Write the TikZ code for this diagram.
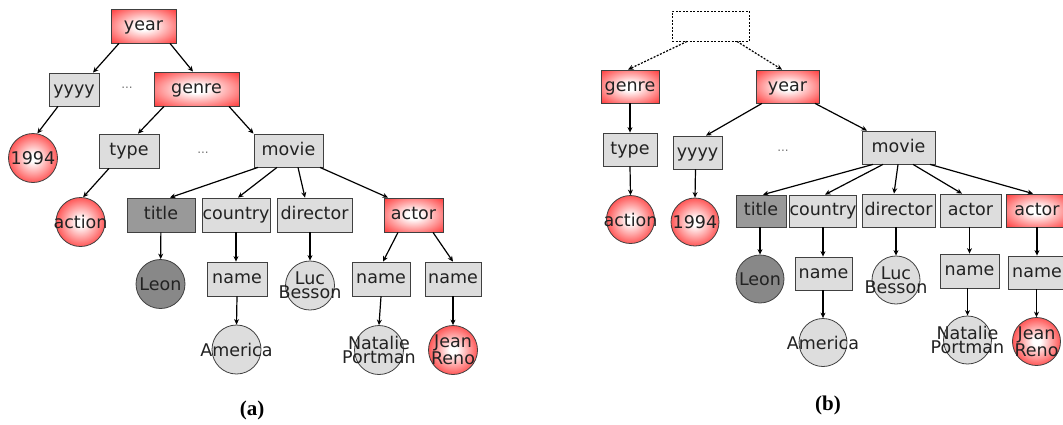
\documentclass[tikz,border=0pt]{standalone}
\usepackage{fontspec}
\setmainfont{DejaVu Sans}
\newfontfamily\capfont{Liberation Serif}
\usetikzlibrary{arrows.meta}
\definecolor{lgray}{RGB}{221,221,221}
\definecolor{mgray}{RGB}{153,153,153}
\definecolor{dgray}{RGB}{136,136,136}
\definecolor{txt}{RGB}{34,34,34}
\pgfdeclareradialshading{redbox}{\pgfpoint{0bp}{0bp}}{color(0bp)=(white); color(6bp)=(white); color(44bp)=(red); color(50bp)=(red); color(100bp)=(red)}
\pgfdeclareradialshading{redball}{\pgfpoint{0bp}{0bp}}{color(0bp)=(white); color(4bp)=(white); color(36bp)=(red); color(50bp)=(red); color(100bp)=(red)}
\newcommand{\nodefont}{\fontsize{17.5}{14}\selectfont}
\tikzset{
  base/.style={draw=black!75, line width=0.8pt, inner sep=0pt, font=\nodefont, text=txt, text height=12.5pt, text depth=3.5pt},
  gbox/.style={base, rectangle, fill=lgray},
  dbox/.style={base, rectangle, fill=mgray},
  rbox/.style={base, rectangle, shading=redbox},
  circbase/.style={draw=black!75, line width=0.8pt, circle, inner sep=0pt, minimum size=49pt},
  gcirc/.style={circbase, fill=lgray},
  dcirc/.style={circbase, fill=dgray},
  rcirc/.style={circbase, shading=redball},
  lbl/.style={font=\nodefont, text=txt, align=center, inner sep=0pt},
  dashbox/.style={draw=black, line width=0.9pt, dash pattern=on 2pt off 1.5pt, rectangle, inner sep=0pt},
  dotsnode/.style={font=\fontsize{12}{12}\selectfont, text=black!55, inner sep=0pt},
  capnode/.style={font=\capfont\bfseries\fontsize{21}{21}\selectfont, inner sep=0pt},
  conn/.style={line width=1.2pt, -{Stealth[length=5.5pt,width=5pt]}},
  dconn/.style={conn, dash pattern=on 2pt off 1.5pt},
}
\begin{document}
\begin{tikzpicture}[x=1pt,y=-1pt]
\useasboundingbox (0,0) rectangle (1063,424);
% ---------------- panel (a)
\node[rbox, minimum width=65pt, minimum height=34pt] (ya) at (143.5,26) {year};
\node[gbox, minimum width=50pt, minimum height=33pt] (yyyya) at (74,89.5) {yyyy};
\node[dotsnode] (d1a) at (127,88) {...};
\node[rbox, minimum width=85pt, minimum height=34pt] (ga) at (196.5,89) {genre};
\node[rcirc, label={[lbl]center:1994}] (n94a) at (33,158) {};
\node[gbox, minimum width=60pt, minimum height=34pt] (typea) at (129,151) {type};
\node[dotsnode] (d2a) at (203,153) {...};
\node[gbox, minimum width=69pt, minimum height=33pt] (mova) at (288.5,150.5) {movie};
\node[rcirc, label={[lbl]center:action}] (acta) at (80.5,222) {};
\node[dbox, minimum width=68pt, minimum height=34pt] (titlea) at (161,215) {title};
\node[gbox, minimum width=68pt, minimum height=34pt] (countrya) at (236,215) {country};
\node[gbox, minimum width=75pt, minimum height=34pt] (dira) at (314.5,215) {director};
\node[rbox, minimum width=59pt, minimum height=34pt] (actora) at (413.5,215) {actor};
\node[dcirc, label={[lbl]center:Leon}] (leona) at (160.5,284) {};
\node[gbox, minimum width=60pt, minimum height=34pt] (cnamea) at (237,279) {name};
\node[gcirc, label={[lbl]center:Luc\\Besson}] (luca) at (310,285.5) {};
\node[gbox, minimum width=58pt, minimum height=34pt] (an1a) at (381,279) {name};
\node[gbox, minimum width=56pt, minimum height=34pt] (an2a) at (453,279) {name};
\node[gcirc, label={[lbl]center:America}] (amera) at (236.5,349.5) {};
\node[gcirc, label={[lbl]center:Natalie\\Portman}] (nata) at (379,350) {};
\node[rcirc, label={[lbl]center:Jean\\Reno}] (jeana) at (453,350) {};
\node[capnode] (capa) at (252,410) {(a)};

\draw[conn] ([xshift=-24.5pt]ya.south) -- ([xshift=19pt]yyyya.north);
\draw[conn] ([xshift=26.5pt]ya.south) -- ([xshift=-3.5pt]ga.north);
\draw[conn] ([xshift=-16pt]yyyya.south) -- (n94a.80);
\draw[conn] ([xshift=-32.5pt]ga.south) -- ([xshift=9pt]typea.north);
\draw[conn] ([xshift=32.5pt]ga.south) -- ([xshift=-35pt]mova.north);
\draw[conn] ([xshift=-20pt]typea.south) -- (acta.84);
\draw[conn] ([xshift=-30.5pt]mova.south) -- ([xshift=9pt]titlea.north);
\draw[conn] ([xshift=-11.5pt]mova.south) -- ([xshift=2pt]countrya.north);
\draw[conn] ([xshift=9.5pt]mova.south) -- ([xshift=-9.5pt]dira.north);
\draw[conn] ([xshift=31.5pt]mova.south) -- ([xshift=-25.5pt]actora.north);
\draw[conn] (titlea) -- (leona);
\draw[conn] (countrya.south) -- (cnamea.north -| countrya.south);
\draw[conn] ([xshift=-4.5pt]dira.south) -- (luca.north);
\draw[conn] ([xshift=-15.5pt]actora.south) -- ([xshift=2pt]an1a.north);
\draw[conn] ([xshift=19.5pt]actora.south) -- (an2a.north);
\draw[conn] (cnamea.south) -- (amera.north);
\draw[conn] (an1a.south) -- (nata.north);
\draw[conn] (an2a.south) -- (jeana.north);

% ---------------- panel (b)
\node[dashbox, minimum width=77pt, minimum height=30pt] (root) at (710.5,26) {};
\node[rbox, minimum width=58pt, minimum height=33pt] (gb) at (630,86.5) {genre};
\node[rbox, minimum width=63pt, minimum height=33pt] (yb) at (787.5,86.5) {year};
\node[gbox, minimum width=54pt, minimum height=33pt] (typeb) at (630,149.5) {type};
\node[gbox, minimum width=49pt, minimum height=33pt] (yyyyb) at (697.5,152.5) {yyyy};
\node[dotsnode] (d1b) at (783,151) {...};
\node[gbox, minimum width=73pt, minimum height=33pt] (movb) at (898.5,147.5) {movie};
\node[rcirc, minimum size=48pt, label={[lbl]center:action}] (actb) at (630.5,219.5) {};
\node[rcirc, minimum size=48pt, label={[lbl]center:1994}] (n94b) at (695,222) {};
\node[dbox, minimum width=50pt, minimum height=32pt] (titleb) at (761,211) {title};
\node[gbox, minimum width=66pt, minimum height=32pt] (countryb) at (823,211) {country};
\node[gbox, minimum width=73pt, minimum height=33pt] (dirb) at (898.5,210.5) {director};
\node[gbox, minimum width=61pt, minimum height=33pt] (actorb) at (970.5,210.5) {actor};
\node[rbox, minimum width=62pt, minimum height=33pt] (actorrb) at (1037,210.5) {actor};
\node[dcirc, minimum size=48pt, label={[lbl]center:Leon}] (leonb) at (760,279) {};
\node[gbox, minimum width=57pt, minimum height=33pt] (cnameb) at (823.5,273.5) {name};
\node[gcirc, minimum size=48pt, label={[lbl]center:Luc\\Besson}] (lucb) at (896,280) {};
\node[gbox, minimum width=59pt, minimum height=34pt] (anb) at (969.5,271) {name};
\node[gbox, minimum width=58pt, minimum height=33pt] (anrb) at (1037,272.5) {name};
\node[gcirc, minimum size=48pt, label={[lbl]center:America}] (amerb) at (823,342.5) {};
\node[gcirc, minimum size=48pt, label={[lbl]center:Natalie\\Portman}] (natb) at (967.5,340) {};
\node[rcirc, minimum size=48pt, label={[lbl]center:Jean\\Reno}] (jeanb) at (1036.5,341.5) {};
\node[capnode] (capb) at (828,405) {(b)};

\draw[dconn] ([xshift=-23.5pt]root.south) -- ([xshift=-2pt]gb.north);
\draw[dconn] ([xshift=26.5pt]root.south) -- ([xshift=-5.5pt]yb.north);
\draw[conn] (gb) -- (typeb);
\draw[conn] ([xshift=-25.5pt]yb.south) -- ([xshift=8.5pt]yyyyb.north);
\draw[conn] ([xshift=27.5pt]yb.south) -- ([xshift=-31.5pt]movb.north);
\draw[conn] (typeb.south) -- (actb.north);
\draw[conn] ([xshift=-2pt]yyyyb.south) -- (n94b.north);
\draw[conn] ([xshift=-25.5pt]movb.south) -- ([xshift=2pt]titleb.north);
\draw[conn] ([xshift=-15.5pt]movb.south) -- ([xshift=2pt]countryb.north);
\draw[conn] ([xshift=-0.5pt]movb.south) -- ([xshift=-4.5pt]dirb.north);
\draw[conn] ([xshift=14.5pt]movb.south) -- ([xshift=-8.5pt]actorb.north);
\draw[conn] ([xshift=31.5pt]movb.south) -- ([xshift=-4pt]actorrb.north);
\draw[conn] ([xshift=-1pt]titleb.south) -- (leonb.north);
\draw[conn] (countryb.south) -- (cnameb.north -| countryb.south);
\draw[conn] ([xshift=-2.5pt]dirb.south) -- (lucb.north);
\draw[conn] ([xshift=-1pt]actorb.south) -- (anb.north);
\draw[conn] (actorrb.south) -- (anrb.north);
\draw[conn] ([xshift=-0.5pt]cnameb.south) -- (amerb.north);
\draw[conn] ([xshift=-2pt]anb.south) -- (natb.north);
\draw[conn] ([xshift=-0.5pt]anrb.south) -- (jeanb.north);
\end{tikzpicture}
\end{document}
